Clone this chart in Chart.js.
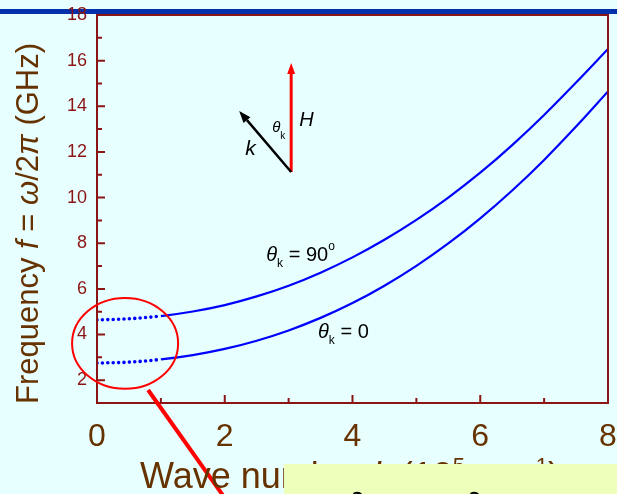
<!DOCTYPE html>
<html>
<head>
<meta charset="utf-8">
<script src="https://cdn.jsdelivr.net/npm/chart.js@4.4.0/dist/chart.umd.min.js"></script>
<style>
  html, body { margin: 0; padding: 0; background: #e8ffff; }
  #wrap { width: 617px; height: 494px; }
</style>
</head>
<body>
<div id="wrap"><canvas id="dispersion" width="617" height="494"></canvas></div>
<script>
// wave number k, in 10^5 cm^-1
var waveNumber = [0, 0.5, 1, 1.5, 2, 2.5, 3, 3.5, 4, 4.5, 5, 5.5, 6, 6.5, 7, 7.5, 8];
// frequency in GHz for theta_k = 90 deg
var freqPerp = [4.64, 4.69, 4.81, 5.01, 5.29, 5.67, 6.14, 6.71, 7.38, 8.15, 9.02, 10.0, 11.09, 12.3, 13.62, 15.04, 16.51];
// frequency in GHz for theta_k = 0
var freqPar = [2.75, 2.79, 2.91, 3.1, 3.37, 3.73, 4.18, 4.73, 5.38, 6.14, 7.01, 7.99, 9.09, 10.31, 11.65, 13.11, 14.65];
// below this k the branches are drawn dotted
var dottedUpTo = 1;

var xTickLabels = [0, 2, 4, 6, 8];
var xMinorTicks = [1, 3, 5, 7];
var yTickLabels = [2, 4, 6, 8, 10, 12, 14, 16, 18];
var yMinorTicks = [3, 5, 7, 9, 11, 13, 15, 17];

var FONT = "'Liberation Sans', Arial, sans-serif";
var AXIS_RED = '#8b1414';
var BROWN = '#663300';

Chart.defaults.font.family = FONT;

function points(ys) {
    return waveNumber.map(function(k, i) { return { x: k, y: ys[i] }; });
}

function isDotted(ctx) {
    return ctx.p1.parsed.x <= dottedUpTo;
}

function branch(label, ys) {
    return {
        label: label,
        data: points(ys),
        borderColor: '#0000ff',
        borderWidth: 2.2,
        pointRadius: 0,
        fill: false,
        cubicInterpolationMode: 'monotone',
        segment: {
            borderDash: function(ctx) { return isDotted(ctx) ? [0, 5.4] : undefined; },
            borderWidth: function(ctx) { return isDotted(ctx) ? 3.6 : undefined; },
            borderCapStyle: function(ctx) { return isDotted(ctx) ? 'round' : undefined; }
        }
    };
}

// text made of runs with different fonts / offsets
function drawRuns(ctx, x, y, runs) {
    runs.forEach(function(r) {
        ctx.font = r.font;
        ctx.fillText(r.text, x, y + (r.dy || 0));
        x += ctx.measureText(r.text).width + (r.gap || 0);
    });
}

function arrow(ctx, x0, y0, x1, y1, color, width, headLen, headHalf) {
    var a = Math.atan2(y1 - y0, x1 - x0);
    var bx = x1 - headLen * Math.cos(a), by = y1 - headLen * Math.sin(a);
    ctx.strokeStyle = color;
    ctx.fillStyle = color;
    ctx.lineWidth = width;
    ctx.beginPath();
    ctx.moveTo(x0, y0);
    ctx.lineTo(bx, by);
    ctx.stroke();
    ctx.beginPath();
    ctx.moveTo(x1, y1);
    ctx.lineTo(bx + headHalf * Math.sin(a), by - headHalf * Math.cos(a));
    ctx.lineTo(bx - headHalf * Math.sin(a), by + headHalf * Math.cos(a));
    ctx.closePath();
    ctx.fill();
}

var backdrop = {
    id: 'backdrop',
    beforeDraw: function(chart) {
        var ctx = chart.ctx;
        ctx.save();
        ctx.fillStyle = '#e8ffff';
        ctx.fillRect(0, 0, chart.width, chart.height);
        // slide header bar
        ctx.fillStyle = '#0030aa';
        ctx.fillRect(0, 9, chart.width, 5);
        ctx.restore();
    }
};

var decorations = {
    id: 'decorations',
    afterDraw: function(chart) {
        var ctx = chart.ctx;
        var a = chart.chartArea;
        var xs = chart.scales.x, ys = chart.scales.y;
        ctx.save();

        // frame
        ctx.strokeStyle = AXIS_RED;
        ctx.lineWidth = 2;
        ctx.strokeRect(a.left, a.top, a.right - a.left, a.bottom - a.top);

        // inward ticks on bottom and left axes
        ctx.beginPath();
        xTickLabels.forEach(function(v) {
            var px = xs.getPixelForValue(v);
            ctx.moveTo(px, a.bottom); ctx.lineTo(px, a.bottom - 8);
        });
        xMinorTicks.forEach(function(v) {
            var px = xs.getPixelForValue(v);
            ctx.moveTo(px, a.bottom); ctx.lineTo(px, a.bottom - 5);
        });
        yTickLabels.forEach(function(v) {
            var py = ys.getPixelForValue(v);
            ctx.moveTo(a.left, py); ctx.lineTo(a.left + 8, py);
        });
        yMinorTicks.forEach(function(v) {
            var py = ys.getPixelForValue(v);
            ctx.moveTo(a.left, py); ctx.lineTo(a.left + 5, py);
        });
        ctx.stroke();

        // red ellipse around the dotted low-k region, with pointer
        var cx = xs.getPixelForValue(0.44), cy = ys.getPixelForValue(3.61);
        var rx = xs.getPixelForValue(0.44 + 0.83) - cx;
        var ry = cy - ys.getPixelForValue(3.61 + 1.99);
        ctx.strokeStyle = '#ff0000';
        ctx.lineWidth = 2;
        ctx.beginPath();
        ctx.ellipse(cx, cy, rx, ry, 0, 0, Math.PI * 2);
        ctx.stroke();
        var lx = xs.getPixelForValue(0.8), ly = ys.getPixelForValue(1.57);
        ctx.lineWidth = 4;
        ctx.beginPath();
        ctx.moveTo(lx, ly);
        ctx.lineTo(lx + 0.71 * (chart.height + 10 - ly), chart.height + 10);
        ctx.stroke();

        // field / wave vector sketch
        var ox = xs.getPixelForValue(3.04), oy = ys.getPixelForValue(11.12);
        arrow(ctx, ox, oy, ox, oy - 109, '#ff0000', 3, 11, 4);
        arrow(ctx, ox, oy, ox - 52, oy - 61, '#000000', 2.5, 12, 4.5);
        ctx.fillStyle = '#000000';
        ctx.textAlign = 'left';
        ctx.textBaseline = 'alphabetic';
        drawRuns(ctx, ox + 8, oy - 46, [{ text: 'H', font: 'italic 20px ' + FONT }]);
        drawRuns(ctx, ox - 19, oy - 40, [
            { text: '\u03b8', font: 'italic 15px ' + FONT },
            { text: 'k', font: '10px ' + FONT, dy: 7 }
        ]);
        drawRuns(ctx, ox - 46, oy - 17, [{ text: 'k', font: 'italic 21px ' + FONT }]);

        // branch labels
        var lab90x = xs.getPixelForValue(2.65), lab90y = ys.getPixelForValue(7.22);
        drawRuns(ctx, lab90x, lab90y, [
            { text: '\u03b8', font: 'italic 20px ' + FONT },
            { text: 'k', font: '12px ' + FONT, dy: 6 },
            { text: ' = 90', font: '20px ' + FONT },
            { text: 'o', font: '12px ' + FONT, dy: -11 }
        ]);
        var lab0x = xs.getPixelForValue(3.46), lab0y = ys.getPixelForValue(3.85);
        drawRuns(ctx, lab0x, lab0y, [
            { text: '\u03b8', font: 'italic 20px ' + FONT },
            { text: 'k', font: '12px ' + FONT, dy: 6 },
            { text: ' = 0', font: '20px ' + FONT }
        ]);

        // axis titles
        ctx.fillStyle = BROWN;
        ctx.save();
        ctx.translate(38, 404);
        ctx.rotate(-Math.PI / 2);
        drawRuns(ctx, 0, 0, [
            { text: 'Frequency ', font: '31px ' + FONT },
            { text: 'f', font: 'italic 31px ' + FONT },
            { text: ' = ', font: '31px ' + FONT },
            { text: '\u03c9', font: 'italic 31px ' + FONT },
            { text: '/2', font: '31px ' + FONT },
            { text: '\u03c0', font: 'italic 31px ' + FONT },
            { text: ' (GHz)', font: '31px ' + FONT }
        ]);
        ctx.restore();

        drawRuns(ctx, 140, 488, [
            { text: 'Wave number ', font: '36px ' + FONT },
            { text: 'k', font: 'italic 36px ' + FONT },
            { text: ' (10', font: '36px ' + FONT },
            { text: '5', font: '22px ' + FONT, dy: -15 },
            { text: ' cm', font: '36px ' + FONT },
            { text: '\u22121', font: '22px ' + FONT, dy: -15 },
            { text: ')', font: '36px ' + FONT }
        ]);

        // note box in the lower right corner
        ctx.fillStyle = '#eeffbb';
        ctx.fillRect(284, 464, chart.width - 284, chart.height - 464);
        ctx.fillStyle = '#000000';
        ctx.font = '34px ' + FONT;
        ctx.fillText('\u2202', 348, 516);
        ctx.fillText('\u2202', 465, 516);

        ctx.restore();
    }
};

new Chart(document.getElementById('dispersion'), {
    type: 'line',
    data: {
        datasets: [
            branch('\u03b8k = 90\u00b0', freqPerp),
            branch('\u03b8k = 0', freqPar)
        ]
    },
    options: {
        responsive: false,
        animation: false,
        events: [],
        layout: { padding: { top: 15, right: 9, left: 0, bottom: 0 } },
        plugins: {
            legend: { display: false },
            tooltip: { enabled: false }
        },
        scales: {
            x: {
                type: 'linear',
                min: 0,
                max: 8,
                afterBuildTicks: function(scale) {
                    scale.ticks = xTickLabels.map(function(v) { return { value: v }; });
                },
                afterFit: function(scale) {
                    scale.height = 91;
                    scale.paddingLeft = 0;
                    scale.paddingRight = 0;
                },
                grid: { display: false, drawTicks: false },
                border: { display: false },
                ticks: {
                    color: BROWN,
                    font: { size: 32 },
                    padding: 15,
                    maxRotation: 0,
                    autoSkip: false
                }
            },
            y: {
                type: 'linear',
                min: 1,
                max: 18,
                afterBuildTicks: function(scale) {
                    scale.ticks = yTickLabels.map(function(v) { return { value: v }; });
                },
                afterFit: function(scale) {
                    scale.width = 97;
                    scale.paddingTop = 0;
                    scale.paddingBottom = 0;
                },
                grid: { display: false, drawTicks: false },
                border: { display: false },
                ticks: {
                    color: AXIS_RED,
                    font: { size: 18 },
                    padding: 10,
                    autoSkip: false
                }
            }
        }
    },
    plugins: [backdrop, decorations]
});
</script>
</body>
</html>
